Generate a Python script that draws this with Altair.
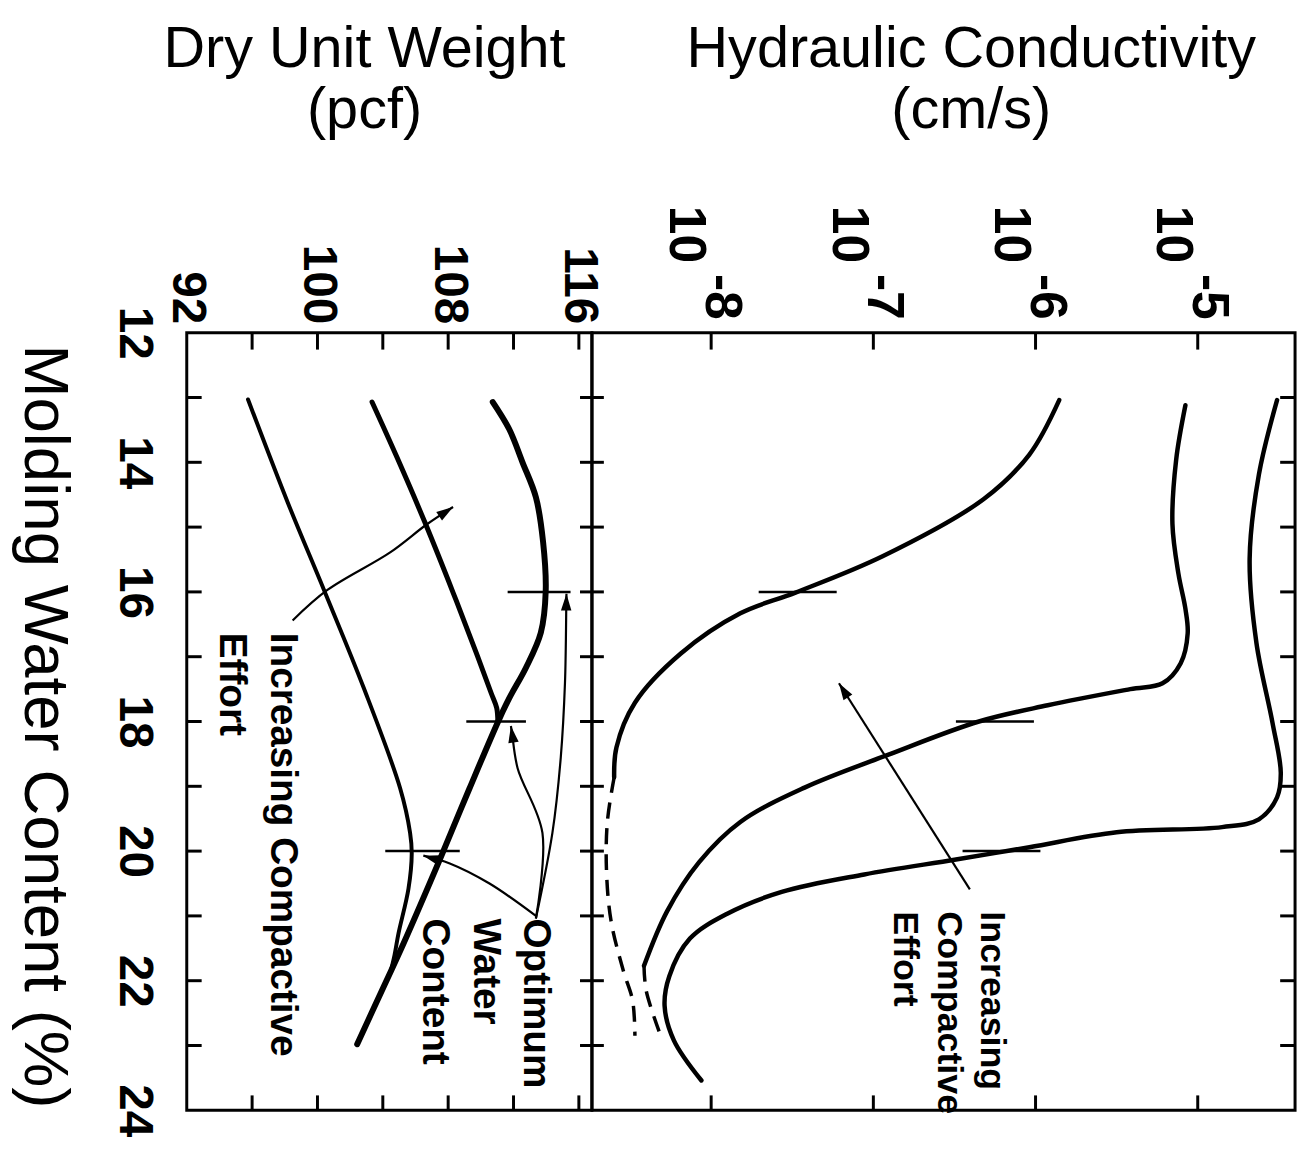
import altair as alt
import pandas as pd

FONT = "Liberation Sans"

# ---------------- values ----------------
# Compaction curves: molding water content (%) vs dry unit weight (pcf)
a_water = [13.07, 13.49, 14.00, 14.54, 15.23, 15.99, 16.63, 17.17, 17.64, 18.01, 19.03, 20.07, 21.43, 22.05, 22.98]
a_dry = [110.73, 111.74, 112.55, 113.37, 113.81, 113.97, 113.67, 112.76, 111.74, 111.04, 109.31, 107.59, 105.26, 104.13, 102.43]
b_water = [13.07, 13.92, 14.93, 16.01, 16.94, 17.56, 17.79, 18.01]
b_dry = [103.34, 104.86, 106.58, 108.30, 109.72, 110.63, 110.97, 111.04]
c_water = [13.03, 14.62, 15.97, 17.48, 19.03, 19.72, 20.04, 20.58, 21.27, 21.60, 21.85]
c_dry = [95.75, 98.18, 100.40, 102.83, 105.06, 105.67, 105.77, 105.57, 104.96, 104.72, 104.49]

# Optimum marks (horizontal bars) on the compaction curves
opt_water = [16, 18, 20]
opt_dry_lo = [111.64, 109.11, 104.15]
opt_dry_hi = [115.49, 112.76, 108.71]

# Hydraulic conductivity curves: water content (%) vs log10 k (cm/s)
k1_water = [13.04, 13.88, 14.57, 15.45, 16.01, 16.33, 16.95, 17.71, 18.40, 18.86]
k1_logk = [-5.854, -6.038, -6.321, -6.943, -7.480, -7.820, -8.187, -8.470, -8.584, -8.598]
k1d_water = [18.86, 19.55, 20.32, 21.08, 21.85, 22.31, 22.85]
k1d_logk = [-8.598, -8.640, -8.645, -8.617, -8.541, -8.484, -8.470]
k2_water = [13.12, 13.96, 14.95, 15.72, 16.26, 16.64, 17.10, 17.41, 17.50, 17.75, 18.00, 18.52, 19.02, 19.55, 20.17, 20.93, 21.77]
k2_logk = [-5.076, -5.133, -5.156, -5.119, -5.076, -5.062, -5.105, -5.217, -5.416, -5.925, -6.349, -6.915, -7.424, -7.820, -8.074, -8.272, -8.414]
k2d_water = [21.77, 22.16, 22.92]
k2d_logk = [-8.414, -8.400, -8.301]
k3_water = [13.04, 14.19, 15.49, 16.79, 18.02, 18.79, 19.17, 19.51, 19.63, 19.71, 19.94, 20.13, 20.36, 20.63, 20.97, 21.35, 21.93, 22.39, 22.92, 23.54]
k3_logk = [-4.511, -4.623, -4.680, -4.638, -4.539, -4.488, -4.511, -4.623, -4.850, -5.500, -6.038, -6.491, -7.056, -7.565, -7.904, -8.131, -8.258, -8.287, -8.230, -8.060]

kopt_water = [16, 18, 20]
kopt_lo = [-7.707, -6.491, -6.45]
kopt_hi = [-7.226, -6.010, -5.97]

# Annotation arrows
arr_eff_water = [16.44, 15.97, 15.39, 14.96, 14.69]
arr_eff_dry = [98.48, 100.61, 104.45, 106.68, 108.30]
arr_o1_water = [21.04, 19.72, 18.56, 17.40, 16.20, 16.03]
arr_o1_dry = [113.37, 114.38, 114.89, 115.15, 115.23, 115.24]
arr_o2_water = [21.04, 19.72, 18.72, 18.18, 18.07]
arr_o2_dry = [113.37, 113.77, 112.25, 111.91, 111.84]
arr_o3_water = [21.00, 20.50, 20.19, 20.07]
arr_o3_dry = [113.37, 110.53, 108.10, 106.48]
head_water = [14.69, 16.03, 18.07, 20.07]
head_dry = [108.30, 115.24, 111.84, 106.48]
head_angle = [56.5, 1.0, 351.0, 286.0]

karr_water = [20.59, 17.41]
karr_logk = [-6.405, -7.212]
khead_angle = [327.6]

# Tick values
w_label_vals = [12, 14, 16, 18, 20, 22, 24]
w_tick_vals = [13, 14, 15, 16, 17, 18, 19, 20, 21, 22, 23]
g_label_vals = [92, 100, 108, 116]
g_tick_vals = [96, 100, 104, 108, 112, 116]
k_decades = [-8, -7, -6, -5]

# ---------------- helpers ----------------
def series(ws, vs, name):
    return pd.DataFrame({"w": ws, "v": vs, "s": name, "i": list(range(len(ws)))})

def to_k(df):
    df = df.copy()
    df["v"] = 10.0 ** df["v"]
    return df

W_L, W_R, H = 408, 708, 783

gx = alt.Scale(domain=[92, 116.8], nice=False, zero=False)
wy = alt.Scale(domain=[12, 24], reverse=True, nice=False, zero=False)
kx = alt.Scale(type="log", domain=[10 ** -8.735, 10 ** -4.40], nice=False)

ax_g = alt.Axis(orient="top", values=g_label_vals, labelAngle=90, labelAlign="right",
                labelBaseline="middle", labelPadding=9, labelFontSize=48, labelFontWeight="bold",
                labelFont=FONT, labelColor="black", labelFlush=False, labelOverlap=False,
                domain=False, ticks=False, tickSize=0, grid=False, title=None)
ax_w = alt.Axis(orient="left", values=w_label_vals, labelAngle=90, labelAlign="center",
                labelBaseline="top", labelPadding=30, labelFontSize=48, labelFontWeight="bold",
                labelFont=FONT, labelColor="black", labelFlush=False, labelOverlap=False,
                domain=False, ticks=False, tickSize=0, grid=False,
                title="Molding Water Content (%)", titleAngle=90, titleFontSize=64,
                titleFontWeight="normal", titleFont=FONT, titleColor="black",
                titleAlign="center", titleBaseline="top", titleX=-112, titleY=396)

def XG(f):
    return alt.X(f, type="quantitative", scale=gx, axis=ax_g)

def YW(f):
    return alt.Y(f, type="quantitative", scale=wy, axis=ax_w)

def XK(f):
    return alt.X(f, type="quantitative", scale=kx, axis=None)

def YK(f):
    return alt.Y(f, type="quantitative", scale=wy, axis=None)

# ---------------- left panel: dry unit weight ----------------
dry_df = pd.concat([series(a_water, a_dry, "A"), series(b_water, b_dry, "B"), series(c_water, c_dry, "C")])
dry_curves = alt.Chart(dry_df).mark_line(color="black", strokeCap="round", strokeJoin="round",
                                         interpolate="catmull-rom").encode(
    x=XG("v"), y=YW("w"), detail="s:N", order="i:Q",
    strokeWidth=alt.StrokeWidth("s:N", scale=alt.Scale(domain=["A", "B", "C"], range=[6, 4, 5]), legend=None))

opt_df = pd.DataFrame({"w": opt_water, "x1": opt_dry_lo, "x2": opt_dry_hi})
opt_bars = alt.Chart(opt_df).mark_rule(color="black", strokeWidth=2.5).encode(
    x=XG("x1"), x2="x2:Q", y=YW("w"))

arr_df = pd.concat([series(arr_eff_water, arr_eff_dry, "e"), series(arr_o1_water, arr_o1_dry, "o1"),
                    series(arr_o2_water, arr_o2_dry, "o2"), series(arr_o3_water, arr_o3_dry, "o3")])
arr_lines = alt.Chart(arr_df).mark_line(color="black", strokeWidth=2.2, interpolate="catmull-rom").encode(
    x=XG("v"), y=YW("w"), detail="s:N", order="i:Q")

ARROW = "M0,0L0.5,1.6L-0.5,1.6Z"
head_df = pd.DataFrame({"w": head_water, "v": head_dry, "a": head_angle})
heads = alt.Chart(head_df).mark_point(shape=ARROW, filled=True, color="black", size=441, opacity=1).encode(
    x=XG("v"), y=YW("w"), angle=alt.Angle("a:Q", scale=None))

ltxt_df = pd.DataFrame({"w": [16.63, 21.04], "v": [97.16, 112.66],
                        "t": ["Increasing    Compactive\nEffort", "Optimum\nWater\nContent"]})
ltxt = alt.Chart(ltxt_df).mark_text(angle=90, align="left", baseline="alphabetic", lineBreak="\n",
                                    lineHeight=51, fontSize=39, fontWeight="bold", font=FONT,
                                    color="black").encode(x=XG("v"), y=YW("w"), text="t:N")

lt_w = pd.DataFrame({"w": w_tick_vals})
l_left_ticks = alt.Chart(lt_w).mark_rule(color="black", strokeWidth=3).encode(
    y=YW("w"), x=alt.value(0), x2=alt.value(15))
l_right_ticks = alt.Chart(lt_w).mark_rule(color="black", strokeWidth=3).encode(
    y=YW("w"), x=alt.value(W_L - 12), x2=alt.value(W_L))
lt_g = pd.DataFrame({"g": g_tick_vals})
l_top_ticks = alt.Chart(lt_g).mark_rule(color="black", strokeWidth=3).encode(
    x=XG("g"), y=alt.value(0), y2=alt.value(17))
l_bot_ticks = alt.Chart(lt_g).mark_rule(color="black", strokeWidth=3).encode(
    x=XG("g"), y=alt.value(H - 15), y2=alt.value(H))

ltitle = alt.Chart(pd.DataFrame({"t": ["Dry Unit Weight\n(pcf)"]})).mark_text(
    align="center", baseline="alphabetic", lineBreak="\n", lineHeight=62, fontSize=58,
    font=FONT, color="black").encode(x=alt.value(179), y=alt.value(-268), text="t:N")

left = alt.layer(dry_curves, opt_bars, arr_lines, heads, ltxt, l_left_ticks, l_right_ticks,
                 l_top_ticks, l_bot_ticks, ltitle).properties(width=W_L, height=H)

# ---------------- right panel: hydraulic conductivity ----------------
k_df = to_k(pd.concat([series(k1_water, k1_logk, "K1"), series(k2_water, k2_logk, "K2"),
                       series(k3_water, k3_logk, "K3")]))
k_curves = alt.Chart(k_df).mark_line(color="black", strokeWidth=4.5, strokeCap="round",
                                     interpolate="catmull-rom").encode(
    x=XK("v"), y=YK("w"), detail="s:N", order="i:Q")
kd_df = to_k(pd.concat([series(k1d_water, k1d_logk, "D1"), series(k2d_water, k2d_logk, "D2")]))
k_dash = alt.Chart(kd_df).mark_line(color="black", strokeWidth=3.5, strokeDash=[16, 10],
                                    interpolate="catmull-rom").encode(
    x=XK("v"), y=YK("w"), detail="s:N", order="i:Q")

kopt_df = pd.DataFrame({"w": kopt_water, "x1": [10 ** v for v in kopt_lo], "x2": [10 ** v for v in kopt_hi]})
k_bars = alt.Chart(kopt_df).mark_rule(color="black", strokeWidth=2.5).encode(
    x=XK("x1"), x2="x2:Q", y=YK("w"))

karr_df = to_k(series(karr_water, karr_logk, "a"))
k_arrow = alt.Chart(karr_df).mark_line(color="black", strokeWidth=2.2).encode(
    x=XK("v"), y=YK("w"), order="i:Q")
khead_df = pd.DataFrame({"w": [karr_water[-1]], "v": [10 ** karr_logk[-1]], "a": khead_angle})
k_head = alt.Chart(khead_df).mark_point(shape=ARROW, filled=True, color="black", size=441, opacity=1).encode(
    x=XK("v"), y=YK("w"), angle=alt.Angle("a:Q", scale=None))

rtxt_df = pd.DataFrame({"w": [20.93], "v": [10 ** -6.334], "t": ["Increasing\nCompactive\nEffort"]})
rtxt = alt.Chart(rtxt_df).mark_text(angle=90, align="left", baseline="alphabetic", lineBreak="\n",
                                    lineHeight=44, fontSize=36, fontWeight="bold", font=FONT,
                                    color="black").encode(x=XK("v"), y=YK("w"), text="t:N")

dec_df = pd.DataFrame({"k": [10.0 ** d for d in k_decades], "base": ["10"] * 4,
                       "ex": [str(d) for d in k_decades]})
dec_base = alt.Chart(dec_df).mark_text(angle=90, align="right", baseline="alphabetic", dy=41,
                                       fontSize=52, fontWeight="bold", font=FONT, color="black").encode(
    x=XK("k"), y=alt.value(-70), text="base:N")
dec_exp = alt.Chart(dec_df).mark_text(angle=90, align="right", baseline="alphabetic", dy=5,
                                      fontSize=52, fontWeight="bold", font=FONT, color="black").encode(
    x=XK("k"), y=alt.value(-13), text="ex:N")

r_left_ticks = alt.Chart(lt_w).mark_rule(color="black", strokeWidth=3).encode(
    y=YK("w"), x=alt.value(0), x2=alt.value(12))
r_right_ticks = alt.Chart(lt_w).mark_rule(color="black", strokeWidth=3).encode(
    y=YK("w"), x=alt.value(W_R - 15), x2=alt.value(W_R))
r_top_ticks = alt.Chart(dec_df).mark_rule(color="black", strokeWidth=3).encode(
    x=XK("k"), y=alt.value(0), y2=alt.value(17))
r_bot_ticks = alt.Chart(dec_df).mark_rule(color="black", strokeWidth=3).encode(
    x=XK("k"), y=alt.value(H - 15), y2=alt.value(H))

rtitle = alt.Chart(pd.DataFrame({"t": ["Hydraulic Conductivity\n(cm/s)"]})).mark_text(
    align="center", baseline="alphabetic", lineBreak="\n", lineHeight=62, fontSize=58,
    font=FONT, color="black").encode(x=alt.value(382), y=alt.value(-268), text="t:N")

right = alt.layer(k_curves, k_dash, k_bars, k_arrow, k_head, rtxt, dec_base, dec_exp,
                  r_left_ticks, r_right_ticks, r_top_ticks, r_bot_ticks, rtitle).properties(width=W_R, height=H)

chart = alt.hconcat(left, right, spacing=0, bounds="flush").configure_view(
    stroke="black", strokeWidth=3).properties(
    padding={"left": 2, "top": 7, "right": 5, "bottom": 5}, background="white")

chart.save("out.html", embed_options={"renderer": "svg", "actions": False})
